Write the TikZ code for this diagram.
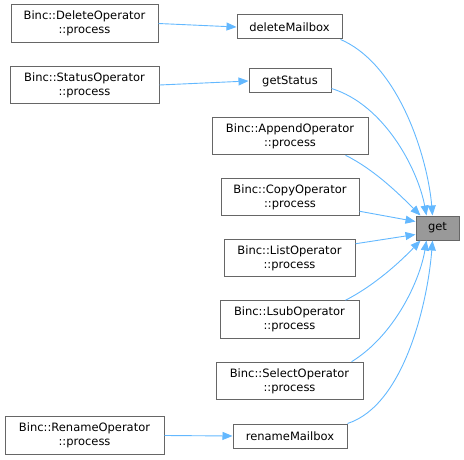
\documentclass[tikz,border=0pt]{standalone}
\usepackage{fontspec}
\setmainfont{DejaVu Sans}
\usetikzlibrary{arrows.meta,calc}
\definecolor{edgeblue}{HTML}{63B8FF}
\definecolor{boxline}{HTML}{666666}
\definecolor{getfill}{HTML}{999999}
\begin{document}
\begin{tikzpicture}[x=1pt,y=-1pt,
  box/.style={draw=boxline,line width=1pt,fill=white,inner sep=0pt,align=center,
    font=\fontsize{11.5}{13.7}\selectfont},
  tall/.style={box,minimum height=37.5pt},
  short/.style={box,minimum height=24pt},
  edge/.style={draw=edgeblue,line width=0.9pt,-{Triangle[length=10pt,width=8pt]}}]
\useasboundingbox (0,0) rectangle (464,460);
\node[tall,minimum width=147pt] (del) at (84.5,23.5) {Binc::DeleteOperator\\::process};
\node[tall,minimum width=149pt] (sta) at (84.5,85) {Binc::StatusOperator\\::process};
\node[short,minimum width=105pt] (dm) at (289.5,27) {deleteMailbox};
\node[short,minimum width=82pt] (gs) at (290,81) {getStatus};
\node[tall,minimum width=156pt] (app) at (290,136) {Binc::AppendOperator\\::process};
\node[tall,minimum width=138pt] (cop) at (290,197) {Binc::CopyOperator\\::process};
\node[short,minimum width=43pt,fill=getfill] (get) at (437.5,228) {get};
\node[tall,minimum width=131pt] (lis) at (289.5,258) {Binc::ListOperator\\::process};
\node[tall,minimum width=139pt] (lsub) at (289.5,319.5) {Binc::LsubOperator\\::process};
\node[tall,minimum width=147pt] (sel) at (289.5,381) {Binc::SelectOperator\\::process};
\node[tall,minimum width=159pt] (ren) at (84.5,435.5) {Binc::RenameOperator\\::process};
\node[short,minimum width=114pt] (rm) at (290,436) {renameMailbox};

\draw[edge] (del.east) -- (dm.west);
\draw[edge] (sta.east) -- (gs.west);
\draw[edge] (ren.east) -- (rm.west);

\draw[edge] ($(dm.south east)+(-2,0)$) .. controls (400,65) and (428,160) .. ($(get.north west)+(17,0)$);
\draw[edge] ($(gs.south east)+(0,-5)$) .. controls (385,105) and (418,170) .. ($(get.north west)+(11,0)$);
\draw[edge] ($(app.south east)+(-23,0)$) .. controls (375,170) and (400,195) .. ($(get.north west)+(5,0)$);
\draw[edge] ($(cop.south east)+(0,-5)$) -- ($(get.north west)+(0,6)$);
\draw[edge] ($(lis.north east)+(0,5)$) -- ($(get.south west)+(0,-6)$);
\draw[edge] ($(lsub.north east)+(-14,0)$) .. controls (375,285) and (400,262) .. ($(get.south west)+(5,0)$);
\draw[edge] ($(sel.north east)+(-12,0)$) .. controls (395,335) and (420,280) .. ($(get.south west)+(11,0)$);
\draw[edge] (rm.north east) .. controls (405,405) and (428,300) .. ($(get.south west)+(17,0)$);
\end{tikzpicture}
\end{document}
